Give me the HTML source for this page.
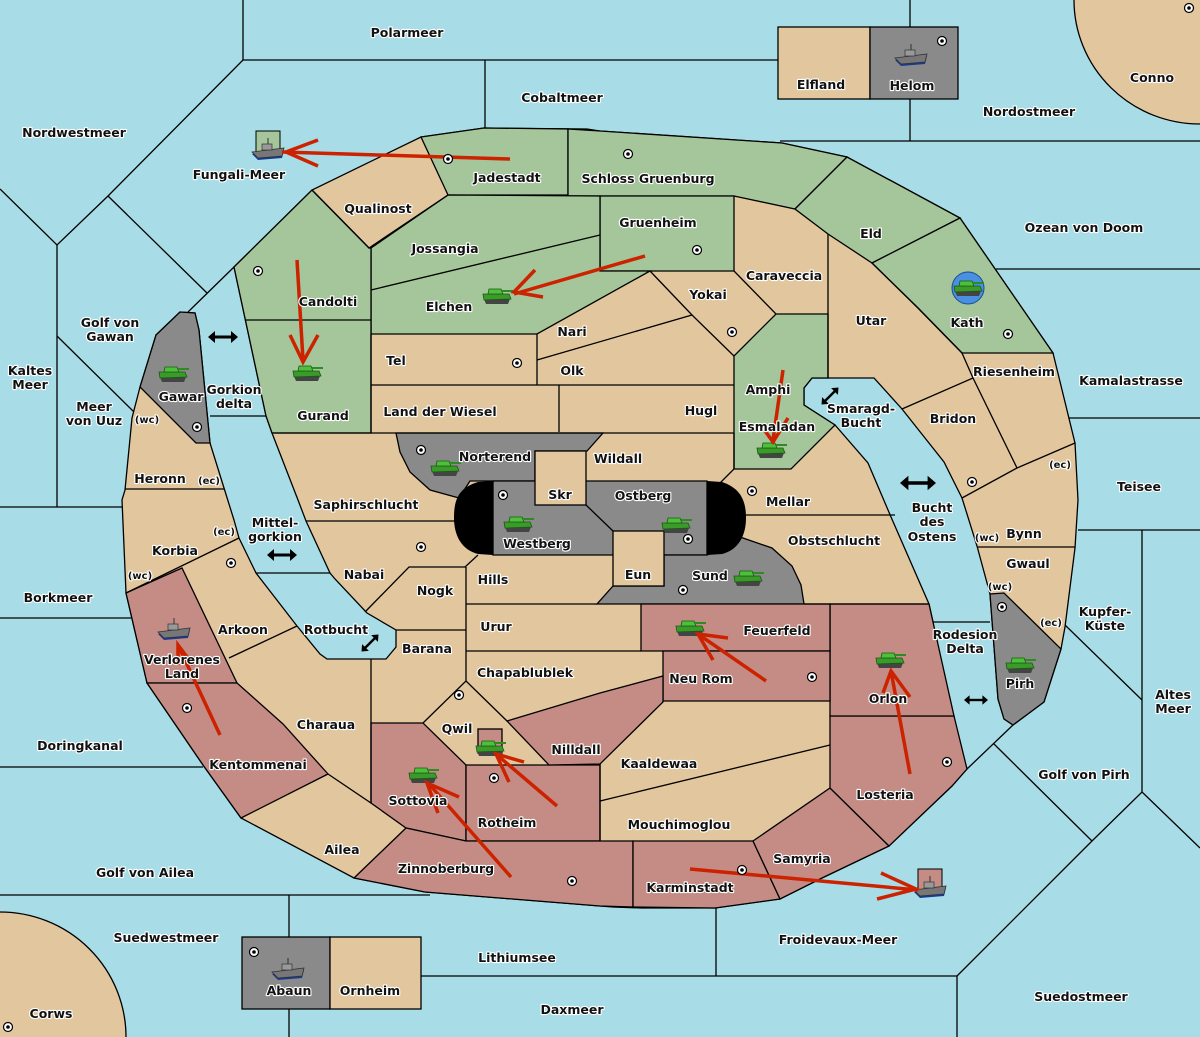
<!DOCTYPE html>
<html><head><meta charset="utf-8"><style>
html,body{margin:0;padding:0;background:#a8dde8;overflow:hidden;width:1200px;height:1037px}
svg{display:block}
text{font-family:"DejaVu Sans","Liberation Sans",sans-serif;font-weight:bold;font-size:12.5px;fill:#111;stroke:#fff;stroke-width:2.2px;paint-order:stroke;stroke-linejoin:round;text-anchor:middle}
text.s{font-size:10px}
.l{fill:none;stroke:#000;stroke-width:1.3}
.ar{fill:none;stroke:#cc2200;stroke-width:3.5;stroke-linecap:butt}
</style></head><body>
<svg width="1200" height="1037" viewBox="0 0 1200 1037" xmlns="http://www.w3.org/2000/svg">
<defs>
<g id="tk">
<path d="M-13,3 L13,3 L11,8 L-11,8 Z" fill="#444"/>
<path d="M-14,-2 L12,-2 L14,3 L-13,4 Z" fill="#3a9a2a" stroke="#1a5a12" stroke-width="0.8"/>
<path d="M-8,-7 L4,-7 L6,-2 L-9,-2 Z" fill="#4cc03a" stroke="#1a5a12" stroke-width="0.8"/>
<rect x="5" y="-6" width="11" height="2" fill="#2e8a22"/>
</g>
<g id="sh">
<path d="M-16,2 L16,-2 L14,6 L-10,8 Z" fill="#1a3a90"/>
<path d="M-16,0 L16,-4 L14,4 L-10,6 Z" fill="#777" stroke="#333" stroke-width="0.8"/>
<rect x="-6" y="-8" width="10" height="6" fill="#999" stroke="#333" stroke-width="0.7"/>
<line x1="0" y1="-8" x2="0" y2="-14" stroke="#333" stroke-width="1"/>
</g>
<g id="dt"><circle r="4.5" fill="#fff" stroke="#000" stroke-width="1.2"/><circle r="1.8" fill="#000"/></g>
<g id="da"><line x1="-10" y1="0" x2="10" y2="0" stroke="#000" stroke-width="3"/><path d="M-15,0 L-8,-6 L-8,6 Z M15,0 L8,-6 L8,6 Z" fill="#000"/></g>
</defs>

<rect width="1200" height="1037" fill="#a8dde8"/>

<ellipse cx="1200" cy="0" rx="126" ry="124" fill="#e2c69e" stroke="#000" stroke-width="1.3"/>
<ellipse cx="0" cy="1037" rx="126" ry="125" fill="#e2c69e" stroke="#000" stroke-width="1.3"/>

<g class="l">
<polyline points="243,0 243,60 778,60"/>
<polyline points="485,60 485,128"/>
<polyline points="910,0 910,27"/><polyline points="910,99 910,141"/>
<polyline points="780,141 1200,141"/>
<polyline points="243,60 108,196 57,245 0,189"/>
<polyline points="108,196 207,293"/>
<polyline points="188,312 234,267"/>
<polyline points="57,245 57,507"/>
<polyline points="57,336 134,412"/>
<polyline points="0,507 122,507"/>
<polyline points="0,618 131,618"/>
<polyline points="0,767 203,767"/>
<polyline points="0,895 430,895"/>
<polyline points="289,895 289,937"/><polyline points="289,1009 289,1037"/>
<polyline points="421,976 957,976"/>
<polyline points="716,908 716,976"/>
<polyline points="957,976 957,1037"/>
<polyline points="957,976 1092,841 1142,792 1200,848"/>
<polyline points="1092,841 994,744"/>
<polyline points="967,769 1013,725"/>
<polyline points="1142,792 1142,530"/>
<polyline points="1065,625 1142,700"/>
<polyline points="1078,530 1200,530"/>
<polyline points="1068,418 1200,418"/>
<polyline points="996,269 1200,269"/>
<polyline points="210,416 266,416"/>
<polyline points="256,573 330,573"/>
<polyline points="933,622 990,622"/>
</g>

<rect x="778" y="27" width="92" height="72" fill="#e2c69e" stroke="#000" stroke-width="1.3"/>
<rect x="870" y="27" width="88" height="72" fill="#8a8a8a" stroke="#000" stroke-width="1.3"/>
<rect x="242" y="937" width="88" height="72" fill="#8a8a8a" stroke="#000" stroke-width="1.3"/>
<rect x="330" y="937" width="91" height="72" fill="#e2c69e" stroke="#000" stroke-width="1.3"/>
<rect x="256" y="131" width="24" height="24" fill="#a4c69a" stroke="#000" stroke-width="1"/>
<rect x="918" y="869" width="24" height="24" fill="#c48c84" stroke="#000" stroke-width="1"/>

<path fill="#e2c69e" stroke="#000" stroke-width="1.3" d="M234,267 L312,190 L421,137 L484,128 L587,129 L600,131 L782,143 L847,157 L960,218 L1053,353 L1075,443 L1078,500 L1075,548 L1065,627 L1061,649 L1044,702 L1013,725 L1004,719 L998,699 L990,594 L977,546 L962,498 L944,462 L902,409 L874,378 L812,378 L804,388 L804,405 L835,425 L868,463 L891,517 L929,604 L933,622 L946,705 L967,769 L952,786 L889,846 L822,878 L780,899 L715,908 L642,908 L613,907 L600,906 L425,892 L354,878 L241,818 L203,765 L147,683 L126,593 L122,500 L125,490 L132,418 L140,387 L156,335 L180,312 L195,313 L199,330 L210,443 L224,488 L234,520 L239,538 L256,573 L297,626 L320,654 L327,659 L386,659 L396,647 L396,630 L367,613 L335,579 L330,573 L306,521 L298,500 L272,433 L266,416 Z"/>

<g fill="#a4c69a" stroke="#000" stroke-width="1.3">
<path d="M421,137 L484,128 L568,129 L568,195 L448,195 Z"/>
<path d="M568,129 L600,131 L782,143 L847,157 L795,209 L734,196 L568,196 Z"/>
<path d="M600,196 L734,196 L734,271 L600,271 Z"/>
<path d="M448,195 L600,196 L600,271 L650,271 L537,334 L371,334 L371,248 Z"/>
<path d="M234,267 L312,190 L369,248 L371,248 L371,433 L272,433 L266,416 Z"/>
<path d="M795,209 L847,157 L960,218 L872,263 L828,234 Z"/>
<path d="M960,218 L1053,353 L962,353 L918,308 L872,263 Z"/>
<path d="M734,356 L776,314 L828,314 L828,378 L812,378 L804,388 L804,405 L835,425 L791,469 L734,469 Z"/>
</g>
<g fill="#8a8a8a" stroke="#000" stroke-width="1.3">
<path d="M140,387 L156,335 L180,312 L195,313 L199,330 L210,443 L196,443 Z"/>
<path d="M990,594 L1004,593 L1061,649 L1044,702 L1013,725 L1004,719 L998,699 Z"/>
<path d="M396,433 L603,433 L587,451 L535,451 L535,481 L470,481 L459,498 L430,490 L410,472 L400,452 Z"/>
<path d="M493,481 L707,481 L707,555 L493,555 Z"/>
<path d="M707,555 L740,537 L772,548 L792,566 L801,585 L804,604 L597,604 L613,586 L664,586 L664,555 Z"/>
</g>
<path d="M493,481 L478,482 C458,488 454,500 454,518 C454,536 462,550 478,554 L493,555 Z" fill="#000"/>
<path d="M707,481 L722,482 C740,488 746,500 746,518 C746,536 738,550 722,554 L707,555 Z" fill="#000"/>
<rect x="535" y="451" width="51" height="54" fill="#e2c69e" stroke="#000" stroke-width="1.3"/>
<rect x="613" y="531" width="51" height="55" fill="#e2c69e" stroke="#000" stroke-width="1.3"/>
<polyline class="l" points="586,505 613,531"/>
<g fill="#c48c84" stroke="#000" stroke-width="1.3">
<path d="M126,593 L182,568 L237,683 L147,683 Z"/>
<path d="M147,683 L237,683 L283,724 L328,774 L241,818 L203,765 Z"/>
<path d="M371,723 L423,723 L466,765 L466,841 L406,828 L371,803 Z"/>
<path d="M466,765 L600,765 L600,841 L466,841 Z"/>
<path d="M354,878 L406,828 L466,841 L633,841 L633,907 L600,906 L425,892 Z"/>
<path d="M633,841 L753,841 L780,899 L715,908 L633,907 Z"/>
<path d="M753,841 L830,788 L889,846 L822,878 L780,899 Z"/>
<path d="M830,716 L954,716 L967,769 L952,786 L889,846 L830,788 Z"/>
<path d="M830,604 L929,604 L933,622 L954,716 L830,716 Z"/>
<path d="M641,604 L830,604 L830,651 L641,651 Z"/>
<path d="M663,651 L830,651 L830,701 L663,701 Z"/>
<path d="M507,721 L600,693 L663,676 L663,702 L600,764 L549,765 Z"/>
<rect x="478" y="729" width="24" height="24"/>
</g>

<g class="l">
<polyline points="312,190 369,248 448,195"/>
<polyline points="371,290 600,235"/>
<polyline points="245,320 371,320"/>
<polyline points="371,334 371,433"/>
<polyline points="537,334 537,385"/>
<polyline points="537,360 692,315 734,356"/>
<polyline points="650,271 692,315"/>
<polyline points="734,271 776,314"/>
<polyline points="828,234 828,378"/>
<polyline points="371,385 734,385"/>
<polyline points="559,385 559,432"/>
<polyline points="272,433 734,433"/>
<polyline points="734,433 734,469 720,483"/>
<polyline points="125,489 224,489"/>
<polyline points="126,593 239,538"/>
<polyline points="229,658 297,626"/>
<polyline points="328,774 371,803 371,659"/>
<polyline points="396,630 466,630"/>
<polyline points="306,521 455,521"/>
<polyline points="365,612 409,567 465,567 478,555"/>
<polyline points="466,567 466,681 423,723"/>
<polyline points="466,681 507,721"/>
<polyline points="466,604 597,604"/>
<polyline points="466,651 641,651"/>
<polyline points="600,764 600,801 830,745"/>
<polyline points="600,801 600,841"/>
<polyline points="746,515 895,515"/>
<polyline points="804,604 929,604"/>
<polyline points="962,353 973,378 1017,468 962,498"/>
<polyline points="973,378 902,409"/>
<polyline points="1017,468 1075,443"/>
<polyline points="977,547 1075,547"/>
<polyline points="872,263 918,308 962,353"/>
</g>

<use href="#da" x="223" y="337"/>
<use href="#da" x="282" y="555"/>
<use href="#da" transform="translate(370,643) rotate(-45) scale(0.8)"/>
<use href="#da" transform="translate(830,396) rotate(-45) scale(0.8)"/>
<use href="#da" transform="translate(918,483) scale(1.2)"/>
<use href="#da" transform="translate(976,700) scale(0.8)"/>

<circle cx="968" cy="288" r="16" fill="#4a90e0" stroke="#1a4a90" stroke-width="1"/>

<use href="#tk" x="173" y="374"/>
<use href="#tk" x="307" y="373"/>
<use href="#tk" x="497" y="296"/>
<use href="#tk" x="771" y="450"/>
<use href="#tk" x="968" y="288"/>
<use href="#tk" x="445" y="468"/>
<use href="#tk" x="518" y="524"/>
<use href="#tk" x="676" y="525"/>
<use href="#tk" x="748" y="578"/>
<use href="#tk" x="690" y="628"/>
<use href="#tk" x="890" y="660"/>
<use href="#tk" x="1020" y="665"/>
<use href="#tk" x="423" y="775"/>
<use href="#tk" x="490" y="748"/>
<use href="#sh" x="268" y="152"/>
<use href="#sh" x="911" y="58"/>
<use href="#sh" x="174" y="632"/>
<use href="#sh" x="288" y="972"/>
<use href="#sh" x="930" y="890"/>

<g class="ar">
<polyline points="510,159 282,152"/><polyline points="318,140 286,152 318,166"/>
<polyline points="297,260 303,360"/><polyline points="290,335 303,362 318,335"/>
<polyline points="645,256 514,294"/><polyline points="535,270 514,292 543,297"/>
<polyline points="783,370 773,440"/><polyline points="763,428 773,442 788,418"/>
<polyline points="220,735 178,645"/><polyline points="178,665 178,645 193,665"/>
<polyline points="511,877 429,784"/><polyline points="459,797 427,783 438,813"/>
<polyline points="557,806 497,755"/><polyline points="524,762 496,754 509,782"/>
<polyline points="766,681 698,634"/><polyline points="728,638 698,634 713,660"/>
<polyline points="910,774 891,671"/><polyline points="883,693 891,671 910,697"/>
<polyline points="690,869 918,890"/><polyline points="881,873 916,889 877,899"/>
</g>

<use href="#dt" x="448" y="159"/><use href="#dt" x="628" y="154"/><use href="#dt" x="697" y="250"/>
<use href="#dt" x="258" y="271"/><use href="#dt" x="517" y="363"/><use href="#dt" x="732" y="332"/>
<use href="#dt" x="1008" y="334"/><use href="#dt" x="972" y="482"/><use href="#dt" x="752" y="491"/>
<use href="#dt" x="503" y="495"/><use href="#dt" x="421" y="547"/><use href="#dt" x="231" y="563"/>
<use href="#dt" x="187" y="708"/><use href="#dt" x="459" y="695"/><use href="#dt" x="494" y="778"/>
<use href="#dt" x="572" y="881"/><use href="#dt" x="742" y="870"/><use href="#dt" x="947" y="762"/>
<use href="#dt" x="812" y="677"/><use href="#dt" x="688" y="539"/><use href="#dt" x="683" y="590"/>
<use href="#dt" x="1002" y="607"/><use href="#dt" x="942" y="41"/><use href="#dt" x="1189" y="8"/>
<use href="#dt" x="254" y="952"/><use href="#dt" x="8" y="1027"/><use href="#dt" x="197" y="427"/>
<use href="#dt" x="421" y="450"/>

<text x="407" y="37">Polarmeer</text>
<text x="562" y="102">Cobaltmeer</text>
<text x="74" y="137">Nordwestmeer</text>
<text x="239" y="179">Fungali-Meer</text>
<text x="821" y="89">Elfland</text>
<text x="912" y="90">Helom</text>
<text x="1152" y="82">Conno</text>
<text x="1029" y="116">Nordostmeer</text>
<text x="1084" y="232">Ozean von Doom</text>
<text x="507" y="182">Jadestadt</text>
<text x="648" y="183">Schloss Gruenburg</text>
<text x="378" y="213">Qualinost</text>
<text x="658" y="227">Gruenheim</text>
<text x="445" y="253">Jossangia</text>
<text x="871" y="238">Eld</text>
<text x="784" y="280">Caraveccia</text>
<text x="708" y="299">Yokai</text>
<text x="328" y="306">Candolti</text>
<text x="449" y="311">Elchen</text>
<text x="572" y="336">Nari</text>
<text x="871" y="325">Utar</text>
<text x="967" y="327">Kath</text>
<text x="110" y="327">Golf von</text>
<text x="110" y="341">Gawan</text>
<text x="396" y="365">Tel</text>
<text x="572" y="375">Olk</text>
<text x="768" y="394">Amphi</text>
<text x="1014" y="376">Riesenheim</text>
<text x="1131" y="385">Kamalastrasse</text>
<text x="30" y="375">Kaltes</text>
<text x="30" y="389">Meer</text>
<text x="181" y="401">Gawar</text>
<text x="234" y="394">Gorkion</text>
<text x="234" y="408">delta</text>
<text x="94" y="411">Meer</text>
<text x="94" y="425">von Uuz</text>
<text class="s" x="147" y="423">(wc)</text>
<text x="323" y="420">Gurand</text>
<text x="440" y="416">Land der Wiesel</text>
<text x="701" y="415">Hugl</text>
<text x="861" y="413">Smaragd-</text>
<text x="861" y="427">Bucht</text>
<text x="953" y="423">Bridon</text>
<text x="777" y="431">Esmaladan</text>
<text x="495" y="461">Norterend</text>
<text x="618" y="463">Wildall</text>
<text x="160" y="483">Heronn</text>
<text class="s" x="209" y="484">(ec)</text>
<text class="s" x="1060" y="468">(ec)</text>
<text x="1139" y="491">Teisee</text>
<text x="560" y="499">Skr</text>
<text x="643" y="500">Ostberg</text>
<text x="788" y="506">Mellar</text>
<text x="366" y="509">Saphirschlucht</text>
<text x="932" y="512">Bucht</text>
<text x="932" y="526">des</text>
<text x="932" y="541">Ostens</text>
<text class="s" x="224" y="535">(ec)</text>
<text x="275" y="527">Mittel-</text>
<text x="275" y="541">gorkion</text>
<text class="s" x="987" y="541">(wc)</text>
<text x="1024" y="538">Bynn</text>
<text x="537" y="548">Westberg</text>
<text x="834" y="545">Obstschlucht</text>
<text x="175" y="555">Korbia</text>
<text x="1028" y="568">Gwaul</text>
<text x="364" y="579">Nabai</text>
<text class="s" x="140" y="579">(wc)</text>
<text x="638" y="579">Eun</text>
<text x="710" y="580">Sund</text>
<text x="493" y="584">Hills</text>
<text class="s" x="1000" y="590">(wc)</text>
<text x="435" y="595">Nogk</text>
<text x="58" y="602">Borkmeer</text>
<text x="1105" y="616">Kupfer-</text>
<text x="1105" y="630">Küste</text>
<text class="s" x="1051" y="626">(ec)</text>
<text x="336" y="634">Rotbucht</text>
<text x="496" y="631">Urur</text>
<text x="243" y="634">Arkoon</text>
<text x="777" y="635">Feuerfeld</text>
<text x="965" y="639">Rodesion</text>
<text x="965" y="653">Delta</text>
<text x="182" y="664">Verlorenes</text>
<text x="182" y="678">Land</text>
<text x="427" y="653">Barana</text>
<text x="525" y="677">Chapablublek</text>
<text x="701" y="683">Neu Rom</text>
<text x="1020" y="688">Pirh</text>
<text x="888" y="703">Orlon</text>
<text x="1173" y="699">Altes</text>
<text x="1173" y="713">Meer</text>
<text x="326" y="729">Charaua</text>
<text x="457" y="733">Qwil</text>
<text x="80" y="750">Doringkanal</text>
<text x="576" y="754">Nilldall</text>
<text x="258" y="769">Kentommenai</text>
<text x="659" y="768">Kaaldewaa</text>
<text x="1084" y="779">Golf von Pirh</text>
<text x="885" y="799">Losteria</text>
<text x="418" y="805">Sottovia</text>
<text x="507" y="827">Rotheim</text>
<text x="679" y="829">Mouchimoglou</text>
<text x="342" y="854">Ailea</text>
<text x="802" y="863">Samyria</text>
<text x="446" y="873">Zinnoberburg</text>
<text x="145" y="877">Golf von Ailea</text>
<text x="690" y="892">Karminstadt</text>
<text x="166" y="942">Suedwestmeer</text>
<text x="838" y="944">Froidevaux-Meer</text>
<text x="517" y="962">Lithiumsee</text>
<text x="289" y="995">Abaun</text>
<text x="370" y="995">Ornheim</text>
<text x="1081" y="1001">Suedostmeer</text>
<text x="572" y="1014">Daxmeer</text>
<text x="51" y="1018">Corws</text>
</svg>
</body></html>
